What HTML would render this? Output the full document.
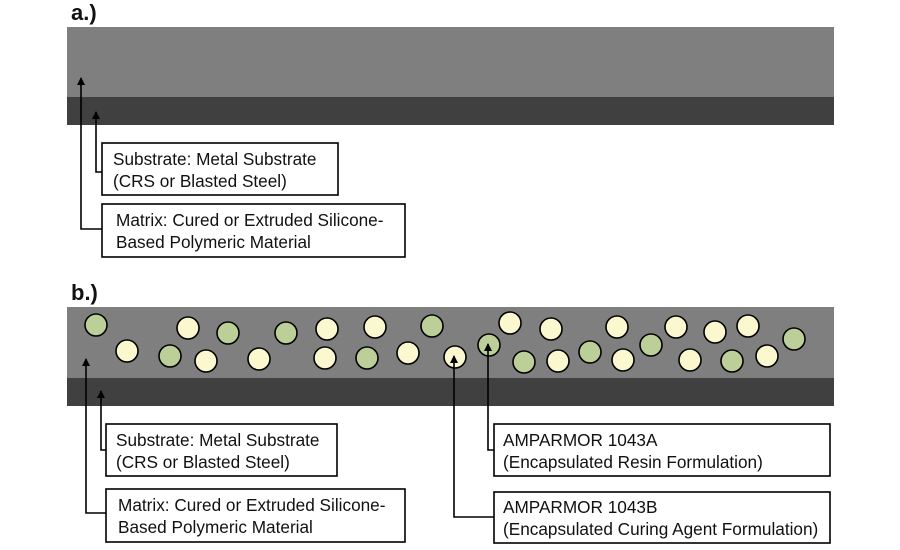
<!DOCTYPE html>
<html><head><style>
html,body{margin:0;padding:0;background:#fff;}
svg{display:block;}
text{font-family:"Liberation Sans",sans-serif;font-size:17.2px;fill:#111;}
.h{font-weight:bold;font-size:22px;}
</style></head><body>
<svg width="900" height="550" viewBox="0 0 900 550" xmlns="http://www.w3.org/2000/svg">
<defs>
<marker id="ar" markerWidth="8" markerHeight="8" refX="4" refY="1" orient="0" markerUnits="userSpaceOnUse">
<path d="M0,8 L4,0 L8,8 Z" fill="#000"/></marker>
</defs>
<text class="h" x="71" y="20">a.)</text>
<rect x="67" y="27" width="767" height="71" fill="#7f7f7f"/>
<rect x="67" y="97" width="767" height="28" fill="#404040"/>
<polyline points="96,112 96,172 102,172" fill="none" stroke="#000" stroke-width="1.6" marker-start="url(#ar)"/>
<polyline points="81,78 81,229 102,229" fill="none" stroke="#000" stroke-width="1.6" marker-start="url(#ar)"/>
<rect x="102" y="143" width="236" height="52" fill="#fff" stroke="#000" stroke-width="1.6"/>
<text x="113" y="165">Substrate: Metal Substrate</text>
<text x="113" y="187">(CRS or Blasted Steel)</text>
<rect x="102" y="204" width="303" height="53" fill="#fff" stroke="#000" stroke-width="1.6"/>
<text x="116" y="226">Matrix: Cured or Extruded Silicone-</text>
<text x="116" y="248">Based Polymeric Material</text>

<text class="h" x="71" y="300">b.)</text>
<rect x="67" y="307" width="767" height="72" fill="#7f7f7f"/>
<rect x="67" y="378" width="767" height="28" fill="#404040"/>
<g stroke="#000" stroke-width="1.6">
<g fill="#bccf98">
<circle cx="96" cy="325" r="11"/><circle cx="228" cy="333" r="11"/><circle cx="170" cy="356" r="11"/>
<circle cx="286" cy="333" r="11"/><circle cx="367" cy="358" r="11"/><circle cx="432" cy="326" r="11"/>
<circle cx="489" cy="345" r="11"/><circle cx="524" cy="362" r="11"/><circle cx="590" cy="352" r="11"/>
<circle cx="651" cy="345" r="11"/><circle cx="732" cy="361" r="11"/><circle cx="794" cy="339" r="11"/>
</g>
<g fill="#fbf8d0">
<circle cx="127" cy="351" r="11"/><circle cx="188" cy="328" r="11"/><circle cx="206" cy="361" r="11"/>
<circle cx="259" cy="359" r="11"/><circle cx="325" cy="358" r="11"/><circle cx="327" cy="329" r="11"/>
<circle cx="375" cy="327" r="11"/><circle cx="408" cy="353" r="11"/><circle cx="455" cy="357" r="11"/>
<circle cx="510" cy="323" r="11"/><circle cx="551" cy="329" r="11"/><circle cx="558" cy="361" r="11"/>
<circle cx="617" cy="327" r="11"/><circle cx="623" cy="360" r="11"/><circle cx="676" cy="327" r="11"/>
<circle cx="690" cy="360" r="11"/><circle cx="715" cy="332" r="11"/><circle cx="748" cy="326" r="11"/>
<circle cx="767" cy="356" r="11"/>
</g>
</g>
<polyline points="101,391 101,450 106,450" fill="none" stroke="#000" stroke-width="1.6" marker-start="url(#ar)"/>
<polyline points="86,359 86,513 106,513" fill="none" stroke="#000" stroke-width="1.6" marker-start="url(#ar)"/>
<polyline points="454,356 454,517 494,517" fill="none" stroke="#000" stroke-width="1.6" marker-start="url(#ar)"/>
<polyline points="488,344 488,450 494,450" fill="none" stroke="#000" stroke-width="1.6" marker-start="url(#ar)"/>
<rect x="106" y="424" width="231" height="52" fill="#fff" stroke="#000" stroke-width="1.6"/>
<text x="116" y="446">Substrate: Metal Substrate</text>
<text x="116" y="468">(CRS or Blasted Steel)</text>
<rect x="106" y="489" width="299" height="53" fill="#fff" stroke="#000" stroke-width="1.6"/>
<text x="118" y="511">Matrix: Cured or Extruded Silicone-</text>
<text x="118" y="533">Based Polymeric Material</text>
<rect x="494" y="424" width="336" height="52" fill="#fff" stroke="#000" stroke-width="1.6"/>
<text x="503" y="446">AMPARMOR 1043A</text>
<text x="503" y="468">(Encapsulated Resin Formulation)</text>
<rect x="494" y="492" width="336" height="51" fill="#fff" stroke="#000" stroke-width="1.6"/>
<text x="503" y="513">AMPARMOR 1043B</text>
<text x="503" y="535">(Encapsulated Curing Agent Formulation)</text>
</svg>
</body></html>
